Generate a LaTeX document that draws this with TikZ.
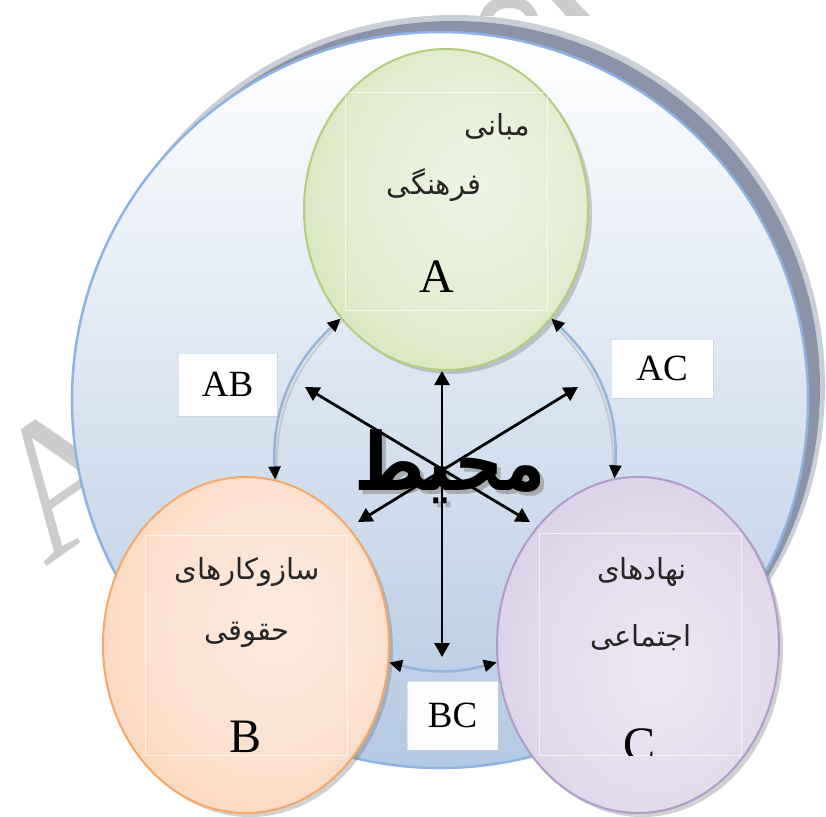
\documentclass[tikz,border=0pt]{standalone}
\usepackage{fontspec}
\setmainfont{Liberation Serif}
\newfontfamily\arabicfont[Script=Arabic]{DejaVu Sans}
\TeXXeTstate=1
\usetikzlibrary{arrows.meta,shapes.geometric,shadows}
\definecolor{wmgray}{HTML}{CCCCCC}
\definecolor{shadowgray}{HTML}{8A93A7}
\definecolor{ringblue}{HTML}{8DB3E2}
\definecolor{fillbottom}{HTML}{B4C9E3}
\definecolor{fillmid}{HTML}{E6EDF6}
\definecolor{arcblue}{HTML}{95B3D7}
\definecolor{gOut}{HTML}{C5DA9E}
\definecolor{gIn}{HTML}{EEF4E4}
\definecolor{gLine}{HTML}{B3CD7E}
\definecolor{oOut}{HTML}{F8C6A2}
\definecolor{oIn}{HTML}{FDEBDF}
\definecolor{oLine}{HTML}{F6A868}
\definecolor{pOut}{HTML}{CBBADC}
\definecolor{pIn}{HTML}{EDE7F3}
\definecolor{pLine}{HTML}{B09CCB}
\definecolor{boxline}{HTML}{B8CCE4}
\pgfdeclareradialshading{gshade}{\pgfpoint{6bp}{4bp}}{color(0bp)=(gIn); color(22bp)=(gIn!70!gOut); color(50bp)=(gOut); color(80bp)=(gOut)}
\pgfdeclareradialshading{oshade}{\pgfpoint{6bp}{4bp}}{color(0bp)=(oIn); color(22bp)=(oIn!70!oOut); color(50bp)=(oOut); color(80bp)=(oOut)}
\pgfdeclareradialshading{pshade}{\pgfpoint{4bp}{-4bp}}{color(0bp)=(pIn); color(22bp)=(pIn!70!pOut); color(50bp)=(pOut); color(80bp)=(pOut)}
\begin{document}
\begin{tikzpicture}[x=1pt,y=1pt,
  blob/.style={ellipse, inner sep=0pt, line width=2pt,
    drop shadow={shadow xshift=4pt, shadow yshift=-4pt, opacity=0.3, fill=black!60}},
  fa/.style={inner sep=0pt, text=black!85, font=\arabicfont\fontsize{29}{33}\selectfont},
  letter/.style={inner sep=0pt, font=\fontsize{48}{48}\selectfont},
  labelbox/.style={fill=white, draw=boxline, densely dotted, line width=1pt, inner sep=0pt,
    font=\fontsize{37}{37}\selectfont},
  faint/.style={draw=white, opacity=0.65, line width=0.9pt},
  arcarrow/.style={draw=arcblue, line width=2.5pt,
    arrows={Triangle[length=13pt,width=12pt,color=black]-Triangle[length=13pt,width=12pt,color=black]}},
  arcshadow/.style={draw=black!30, line width=2pt, opacity=0.5},
  stararrow/.style={draw=black, line width=2.8pt,
    arrows={Triangle[length=14pt,width=15pt]-Triangle[length=14pt,width=15pt]}},
  bigword/.style={inner sep=0pt, font=\arabicfont\bfseries\fontsize{80}{90}\selectfont}
]
\useasboundingbox (0,0) rectangle (826,-816);

% watermark
\node[inner sep=0pt, text=wmgray, rotate=35, font=\fontsize{192}{192}\selectfont] (wmA) at (66,-476) {A};
\fill[wmgray] (480,-16) .. controls (484,-2) and (496,4) .. (510,4) .. controls (524,4) and (534,-4) .. (538,-16)
  -- (526,-16) .. controls (522,-10) and (516,-8) .. (510,-8) .. controls (502,-8) and (496,-10) .. (493,-16) -- cycle;
\fill[wmgray] (550,2) -- (573,2) -- (590,-16) -- (566,-16) -- cycle;

% shadow of the big circle
\fill[shadowgray, opacity=0.45] (454,-386) circle[radius=371];
\fill[shadowgray] (453,-388) circle[radius=367];

% big circle
\draw[ringblue, line width=2.5pt, top color=white, middle color=fillmid, bottom color=fillbottom]
  (440,-400) circle[radius=368];

% ellipses
\node[blob, draw=gLine, shading=gshade, minimum width=284pt, minimum height=321pt] (A) at (446,-209.5) {};
\node[blob, draw=oLine, shading=oshade, minimum width=286pt, minimum height=336pt] (B) at (246,-645) {};
\node[blob, draw=pLine, shading=pshade, minimum width=282pt, minimum height=336pt] (C) at (638,-645) {};

% faint text-box outlines
\draw[faint] (345,-92) rectangle (547,-310);
\draw[faint] (145,-535) rectangle (347,-755);
\draw[faint] (539,-533) rectangle (741,-755);

% texts in ellipses
\node[fa] (a1) at (497,-127) {\beginR مبانی\endR};
\node[fa] (a2) at (434,-185) {\beginR فرهنگی\endR};
\node[letter, anchor=base] (la) at (437,-292) {A};
\node[fa] (b1) at (247,-572) {\beginR سازوکارهای\endR};
\node[fa] (b2) at (247,-635) {\beginR حقوقی\endR};
\node[letter, anchor=base] (lb) at (246,-752) {B};
\node[fa] (c1) at (642,-572) {\beginR نهادهای\endR};
\node[fa] (c2) at (641,-638) {\beginR اجتماعی\endR};
\begin{scope}
\clip (580,-700) rectangle (700,-755);
\node[letter, anchor=base] (lc) at (639,-760) {C};
\end{scope}

% curved two-way arrows between the ellipses
\draw[arcshadow] ([shift={(2,-2)}]A.226) to[bend right=25] ([shift={(2,-2)}]B.80);
\draw[arcshadow] ([shift={(-2,-2)}]A.314) to[bend left=25] ([shift={(-2,-2)}]C.98);
\draw[arcarrow] (A.226) to[bend right=25] (B.80);
\draw[arcarrow] (A.314) to[bend left=25] (C.98);
\draw[arcarrow] (B.353) to[bend right=15] (C.187);

% central word
\node[bigword, text=black!45, opacity=0.6] (envs) at (454,-471) {\scalebox{0.85}[1]{\beginR محیط\endR}};
\node[bigword] (env) at (450,-467) {\scalebox{0.85}[1]{\beginR محیط\endR}};

% star of arrows
\coordinate (vb) at (442,-657);
\coordinate (d1a) at (305,-387);
\coordinate (d1b) at (530,-522);
\coordinate (d2a) at (578,-387);
\coordinate (d2b) at (358,-522);
\draw[stararrow] (vb) -- (vb |- A.south);
\draw[stararrow] (d1a) -- (d1b);
\draw[stararrow] (d2a) -- (d2b);

% label boxes
\node[labelbox, minimum width=99pt, minimum height=63pt] (AB) at (227.5,-384.5) {AB};
\node[labelbox, minimum width=102pt, minimum height=59pt] (AC) at (662,-368.5) {AC};
\fill[boxline, opacity=0.7] (410,-684) rectangle (501,-753);
\node[labelbox, fill=white!96!boxline, minimum width=91pt, minimum height=69pt] (BC) at (452.5,-715.5) {BC};
\end{tikzpicture}
\end{document}
